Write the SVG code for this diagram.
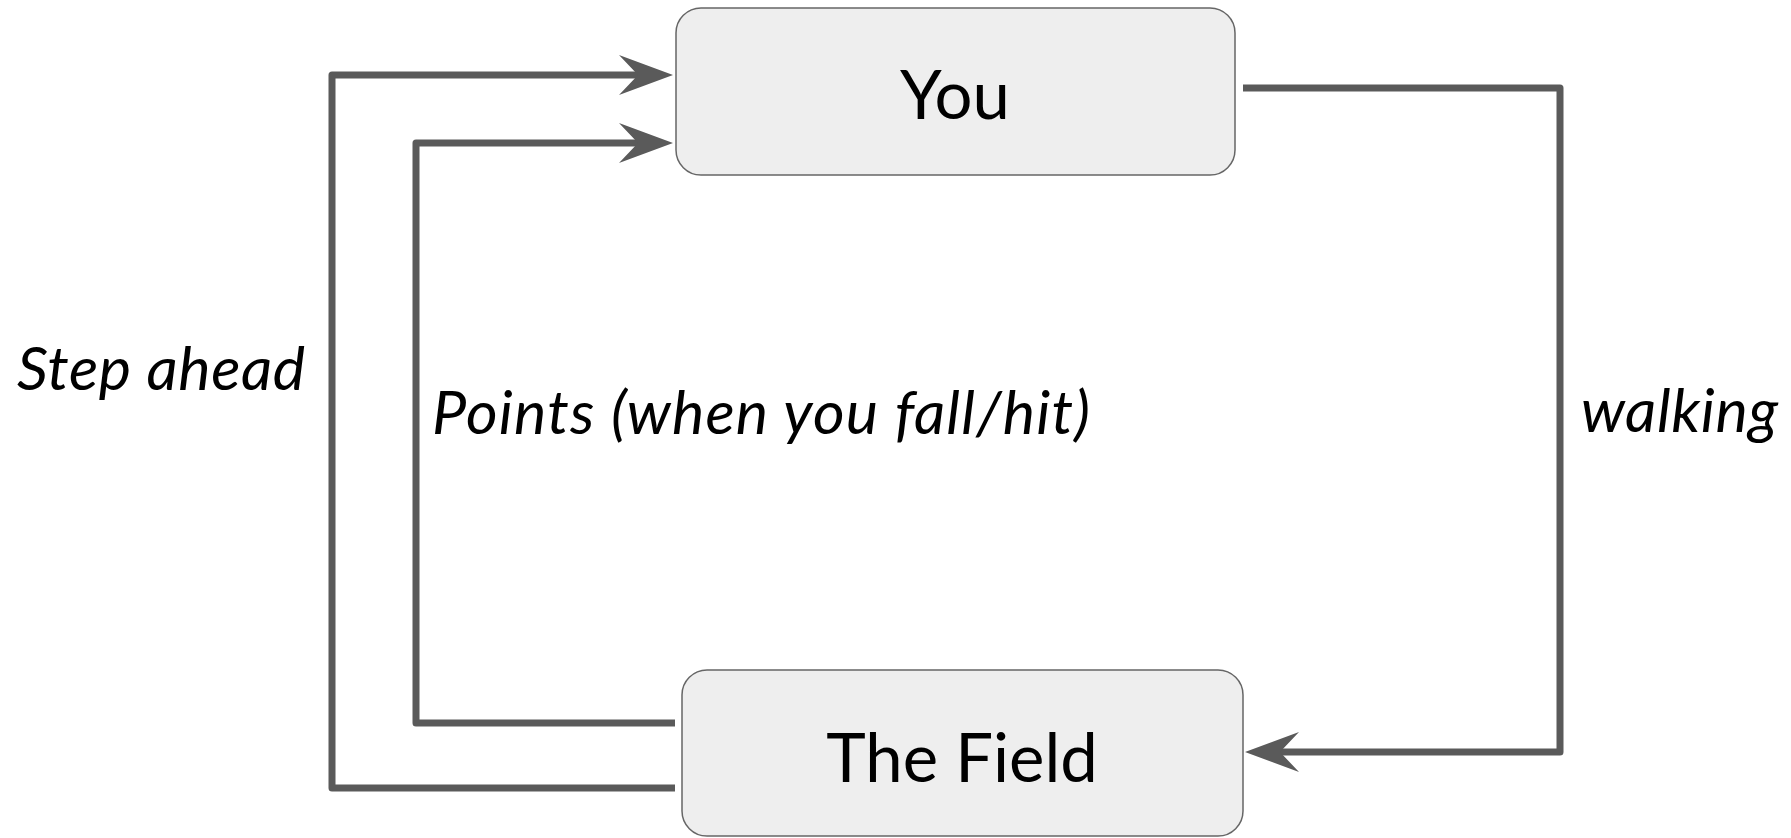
<svg xmlns="http://www.w3.org/2000/svg" width="1791" height="838" viewBox="0 0 1791 838">
  <style>
    .node rect { fill: #eeeeee; stroke: #666666; stroke-width: 1.5; }
    .node text { font-family: Lato, "Open Sans", "Liberation Sans", sans-serif; font-size: 67px; fill: #000000; text-anchor: middle; }
    .conn path.line { fill: none; stroke: #5a5a5a; stroke-width: 7; stroke-linejoin: round; }
    .conn path.head { fill: #5a5a5a; stroke: none; }
    .label { font-family: Lato, "Open Sans", "Liberation Sans", sans-serif; font-style: italic; font-size: 61px; fill: #000000; }
  </style>
  <rect width="1791" height="838" fill="#ffffff"/>
  <g id="node-you" class="node">
    <rect x="676" y="8" width="559" height="167" rx="25" ry="25"/>
    <text x="955" y="119">You</text>
  </g>
  <g id="node-field" class="node">
    <rect x="682" y="670" width="561" height="166" rx="25" ry="25"/>
    <text x="962" y="782">The Field</text>
  </g>
  <g id="connectors" class="conn">
    <g id="edge-step-ahead">
      <path class="line" d="M675,788 H332 V75 H640"/>
      <path class="head" d="M673,75 L619,55 L638,75 L619,95 Z"/>
      <text class="label" x="17" y="390" textLength="288">Step ahead</text>
    </g>
    <g id="edge-points">
      <path class="line" d="M675,723 H416 V143 H640"/>
      <path class="head" d="M673,143 L619,123 L638,143 L619,163 Z"/>
      <text class="label" x="432" y="434" textLength="658">Points (when you fall/hit)</text>
    </g>
    <g id="edge-walking">
      <path class="line" d="M1243,88 H1560 V752 H1280"/>
      <path class="head" d="M1245,752 L1299,732 L1280,752 L1299,772 Z"/>
      <text class="label" x="1581" y="432" textLength="197">walking</text>
    </g>
  </g>
</svg>
